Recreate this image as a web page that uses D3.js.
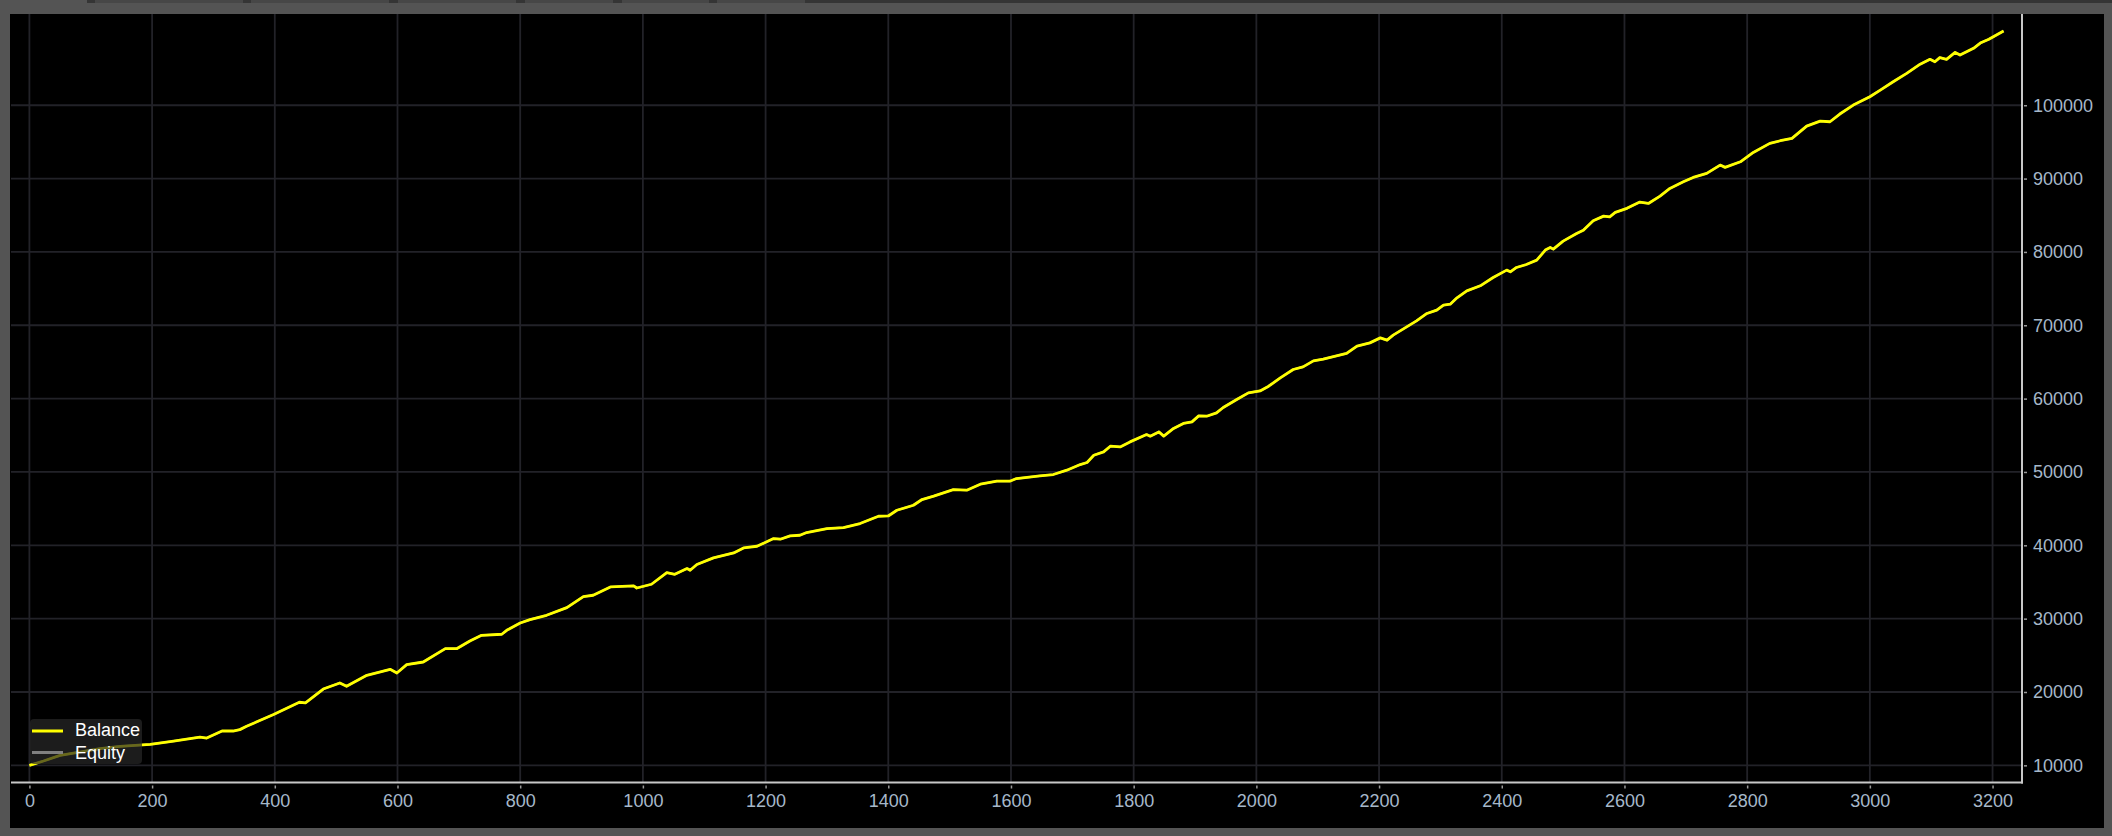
<!DOCTYPE html>
<html>
<head>
<meta charset="utf-8">
<script src="https://cdn.jsdelivr.net/npm/d3@7/dist/d3.min.js"></script>
<style>
  html, body { margin: 0; padding: 0; background: #545454; }
  svg { display: block; }
  text { font-family: "Liberation Sans", Arial, sans-serif; }
</style>
</head>
<body>
<svg id="chart" width="2112" height="836"></svg>
<script>
// ---- data ----
const trades = [0,23,50,72,115,148,197,235,278,289,314,332,343,354,398,440,450,479,506,517,550,588,599,615,642,678,697,718,737,770,778,800,816,843,876,903,919,947,985,990,1014,1039,1052,1072,1077,1088,1115,1148,1164,1186,1213,1224,1240,1256,1267,1300,1327,1354,1384,1400,1414,1441,1455,1474,1506,1528,1550,1577,1598,1609,1647,1669,1691,1713,1724,1735,1751,1762,1778,1794,1821,1827,1841,1849,1865,1881,1895,1906,1919,1935,1946,1968,1987,2006,2020,2039,2060,2076,2093,2109,2147,2164,2185,2202,2213,2223,2245,2261,2278,2294,2305,2316,2327,2343,2365,2386,2408,2414,2424,2440,2457,2471,2479,2484,2500,2522,2533,2549,2566,2576,2585,2604,2625,2639,2658,2674,2696,2712,2734,2756,2764,2789,2810,2837,2854,2873,2897,2919,2935,2951,2973,3000,3017,3038,3060,3082,3098,3106,3114,3125,3139,3147,3169,3180,3194,3218];
const balance = [10000,10590,11360,11680,12280,12590,12860,13310,13860,13720,14680,14680,14870,15320,16940,18600,18520,20400,21230,20780,22280,23090,22590,23730,24090,25920,25920,26950,27730,27870,28410,29410,29870,30460,31500,33000,33190,34320,34460,34180,34690,36280,36050,36830,36600,37380,38280,38960,39640,39870,40920,40830,41280,41370,41740,42280,42420,42970,43960,44000,44780,45460,46240,46700,47600,47510,48330,48740,48740,49100,49460,49650,50240,51010,51290,52280,52740,53510,53420,54100,55100,54880,55460,54880,55930,56610,56830,57650,57600,58050,58790,59880,60780,61050,61690,62830,63970,64330,65150,65380,66160,67150,67600,68280,67970,68650,69780,70600,71610,72060,72740,72880,73740,74690,75380,76520,77520,77290,77880,78290,78880,80250,80610,80380,81470,82520,82970,84240,84880,84790,85390,85940,86800,86610,87610,88660,89560,90160,90710,91840,91530,92290,93570,94800,95160,95480,97160,97840,97750,98800,100020,101160,102070,103200,104350,105600,106260,105930,106500,106260,107200,106840,107760,108480,109000,110120];
const equity = balance.slice();
const xTicks = [0,200,400,600,800,1000,1200,1400,1600,1800,2000,2200,2400,2600,2800,3000,3200];
const yTicks = [10000,20000,30000,40000,50000,60000,70000,80000,90000,100000];
const legendLabels = ["Balance", "Equity"];

// ---- layout ----
const svg = d3.select("#chart");
const W = 2112, H = 836;
const plot = { left: 11, right: 2022, top: 14, bottom: 782.5 };

const x = d3.scaleLinear().domain([-30, 3248]).range([plot.left, plot.right]);
const y = d3.scaleLinear().domain([7660, 112440]).range([plot.bottom, plot.top]);

// frame
svg.append("rect").attr("x", 0).attr("y", 0).attr("width", W).attr("height", H).attr("fill", "#545454");
svg.append("rect").attr("x", 0).attr("y", 0).attr("width", W).attr("height", 3).attr("fill", "#353535");
svg.append("rect").attr("x", 0).attr("y", 0).attr("width", 87).attr("height", 3).attr("fill", "#545454");
const tabs = [[95,243],[251,389],[398,516],[525,613],[622,709],[717,805]];
tabs.forEach(t => svg.append("rect").attr("x", t[0]).attr("y", 0).attr("width", t[1]-t[0]).attr("height", 3).attr("fill", "#474747"));
svg.append("rect").attr("x", 10).attr("y", 14).attr("width", 2094).attr("height", 814).attr("fill", "#000");

// grid
const grid = svg.append("g").attr("stroke", "#222228").attr("stroke-width", 1.8);
xTicks.forEach(v => grid.append("line").attr("x1", x(v)).attr("x2", x(v)).attr("y1", plot.top).attr("y2", plot.bottom));
yTicks.forEach(v => grid.append("line").attr("x1", plot.left).attr("x2", plot.right).attr("y1", y(v)).attr("y2", y(v)));

// lines
const pts = trades.map((t, i) => [t, balance[i], equity[i]]);
const lineEq = d3.line().x(d => x(d[0])).y(d => y(d[2]));
const lineBal = d3.line().x(d => x(d[0])).y(d => y(d[1]));
svg.append("path").datum(pts).attr("d", lineEq).attr("fill", "none").attr("stroke", "#808080").attr("stroke-width", 2.2);
svg.append("path").datum(pts).attr("d", lineBal).attr("fill", "none").attr("stroke", "#ffff00").attr("stroke-width", 2.8).attr("stroke-linejoin", "round");

// axes
const labelColor = "#a6b8ca";
const xAxis = svg.append("g").attr("transform", `translate(0,${plot.bottom})`)
  .call(d3.axisBottom(x).tickValues(xTicks).tickSize(6).tickPadding(6).tickFormat(d3.format("d")));
xAxis.select(".domain").remove();
xAxis.selectAll(".tick line").attr("y1", 3).attr("y2", 6).attr("stroke", "#9a9a9a").attr("stroke-width", 1.5);
xAxis.selectAll(".tick text").attr("fill", labelColor).style("font-size", "18px").style("font-family", "'Liberation Sans', Arial, sans-serif");

const yAxis = svg.append("g").attr("transform", `translate(${plot.right},0)`)
  .call(d3.axisRight(y).tickValues(yTicks).tickSize(5).tickPadding(6).tickFormat(d3.format("d")));
yAxis.select(".domain").remove();
yAxis.selectAll(".tick line").attr("x1", 2).attr("x2", 5).attr("stroke", "#9a9a9a").attr("stroke-width", 1.5);
yAxis.selectAll(".tick text").attr("fill", labelColor).style("font-size", "18px").style("font-family", "'Liberation Sans', Arial, sans-serif");

svg.append("line").attr("x1", plot.left).attr("x2", plot.right + 1).attr("y1", plot.bottom).attr("y2", plot.bottom)
  .attr("stroke", "#c8c8c8").attr("stroke-width", 2);
svg.append("line").attr("x1", plot.right).attr("x2", plot.right).attr("y1", plot.top).attr("y2", plot.bottom + 1)
  .attr("stroke", "#c8c8c8").attr("stroke-width", 2);

// legend
const lg = svg.append("g");
lg.append("rect").attr("x", 30).attr("y", 719).attr("width", 112).attr("height", 45).attr("rx", 4)
  .attr("fill", "rgba(40,40,40,0.7)");
const legendColors = ["#ffff00", "#808080"];
legendLabels.forEach((lab, i) => {
  const cy = 731 + i * 21.5;
  lg.append("line").attr("x1", 32).attr("x2", 63).attr("y1", cy).attr("y2", cy)
    .attr("stroke", legendColors[i]).attr("stroke-width", 3);
  lg.append("text").attr("x", 75).attr("y", 736 + i * 23.3).attr("fill", "#ffffff")
    .style("font-size", "18px").text(lab);
});
</script>
</body>
</html>
